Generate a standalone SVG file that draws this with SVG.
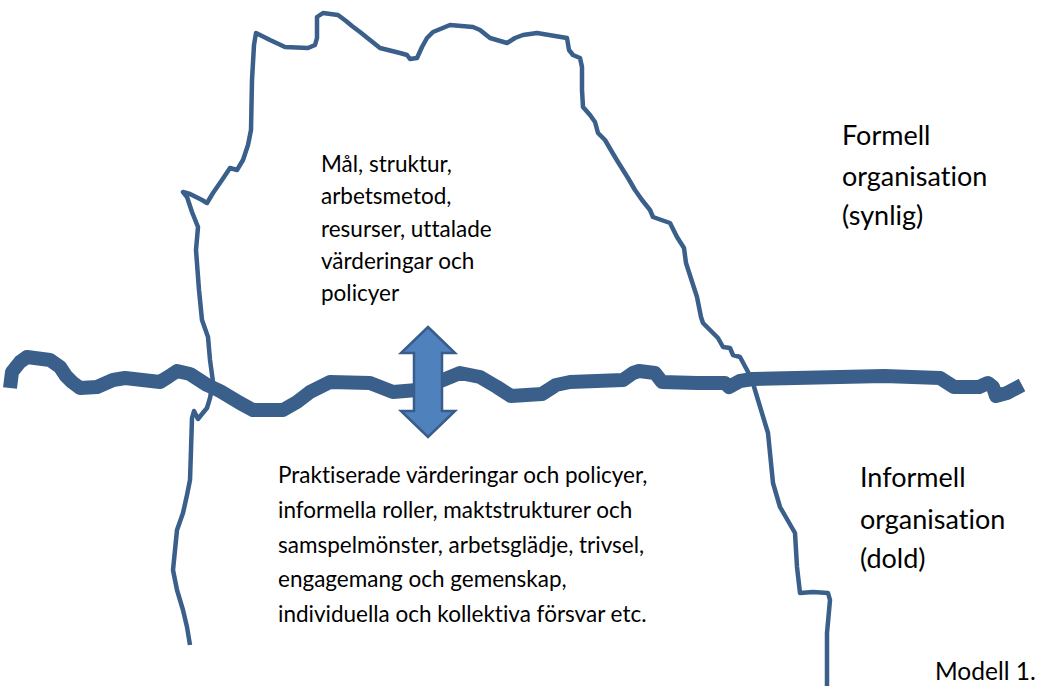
<svg xmlns="http://www.w3.org/2000/svg" width="1049" height="686" viewBox="0 0 1049 686">
<style>
.thin{fill:none;stroke:#3A5F8B;stroke-width:4.5;stroke-linejoin:round;stroke-linecap:butt}
.band{fill:none;stroke:#3A5F8B;stroke-width:14;stroke-linejoin:round;stroke-linecap:butt}
.t{font-family:Lato,"Open Sans","Liberation Sans",sans-serif;fill:#000;font-variant-ligatures:none}
.s{font-size:22.5px}
.l{font-size:27px}
.c{font-size:24.5px}
</style>
<rect width="1049" height="686" fill="#fff"/>
<g id="connectors">
<path id="outline" class="thin" d="M190,645 L187,627 L183,610 L177,590 L173,570 L175,550 L177,530 L183,513 L187,495 L190,480 L191,450 L192,418 L194,411 L198,419 L202,414 L207,408 L210,398 L213,382 L210,360 L208,337 L202,320 L199,290 L196,250 L198,227 L192,212 L187,197 L183,192 L190,194 L202,200 L207,203 L213,193 L222,180 L230,168 L237,170 L243,160 L248,145 L251,130 L252,80 L254,45 L256,33 L270,40 L285,47 L308,48 L315,45 L317,38 L317,17 L323,13 L338,15 L346,21 L352,26 L360,32 L370,40 L380,48 L400,53 L407,55 L410,59 L417,58 L422,47 L427,38 L433,32 L450,25 L473,27 L480,30 L490,38 L507,43 L515,38 L523,35 L537,33 L567,38 L569,50 L573,55 L580,58 L582,67 L582,90 L583,107 L590,115 L595,122 L598,133 L605,140 L612,152 L618,162 L628,178 L635,190 L642,200 L650,210 L653,217 L670,223 L677,237 L684,248 L686,263 L697,297 L701,317 L703,323 L718,338 L723,347 L730,348 L733,355 L740,357 L747,370 L752,380 L758,400 L768,433 L773,483 L780,507 L795,533 L797,567 L800,593 L813,592 L828,593 L830,600 L827,633 L827,687"/>
<path id="waterline" class="band" d="M10,388 L12,372 L20,362 L27,357 L50,360 L60,367 L66,376 L72,382 L80,388 L97,387 L113,380 L125,378 L160,382 L168,377 L177,371 L190,374 L207,385 L220,391 L240,403 L253,410 L283,410 L297,402 L310,392 L330,382 L370,383 L393,392 L417,390 L443,380 L460,373 L480,377 L497,387 L511,396 L542,394 L556,385 L570,382 L623,380 L633,373 L639,371 L655,373 L662,382 L697,383 L725,383 L729,387 L740,381 L753,379 L884,376 L940,378 L954,387 L979,387 L988,383 L993,387 L996,396 L1007,393 L1022,385"/>
</g>
<g id="arrow">
<polygon points="428,327 455,353 442,353 442,411 455,411 428,437 401,411 414,411 414,353 401,353" fill="#4F81BD" stroke="#385D8A" stroke-width="2.5" stroke-linejoin="miter"/>
</g>
<g id="formal-content">
<text class="t s" x="321" y="172">Mål, struktur,</text>
<text class="t s" x="321" y="204">arbetsmetod,</text>
<text class="t s" x="321" y="237">resurser, uttalade</text>
<text class="t s" x="321" y="269">värderingar och</text>
<text class="t s" x="321" y="301">policyer</text>
</g>
<g id="informal-content">
<text class="t s" x="278" y="483">Praktiserade värderingar och policyer,</text>
<text class="t s" x="278" y="518">informella roller, maktstrukturer och</text>
<text class="t s" x="278" y="553">samspelmönster, arbetsglädje, trivsel,</text>
<text class="t s" x="278" y="587">engagemang och gemenskap,</text>
<text class="t s" x="278" y="622">individuella och kollektiva försvar etc.</text>
</g>
<g id="formal-label">
<text class="t l" x="842" y="145">Formell</text>
<text class="t l" x="842" y="186">organisation</text>
<text class="t l" x="842" y="225">(synlig)</text>
</g>
<g id="informal-label">
<text class="t l" x="860" y="487">Informell</text>
<text class="t l" x="860" y="529">organisation</text>
<text class="t l" x="860" y="568">(dold)</text>
</g>
<g id="caption">
<text class="t c" x="935" y="680">Modell 1.</text>
</g>
</svg>
